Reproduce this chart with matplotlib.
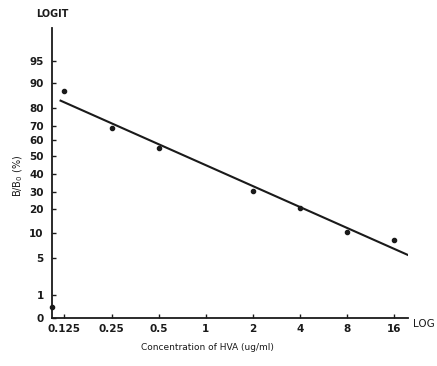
import numpy as np
import matplotlib.pyplot as plt
from matplotlib.ticker import FixedLocator, FixedFormatter, NullLocator

# data (B/B0 as fraction)
conc = [0.125, 0.25, 0.5, 2, 4, 8, 16]
bb0 = [0.868, 0.69, 0.55, 0.305, 0.205, 0.104, 0.086]
zero_point = [0.104, 0.005]   # point sitting on the y axis

# fitted line end points
fit_x = [0.118, 19.7]
fit_y = [0.83, 0.056]

xticks = [0.125, 0.25, 0.5, 1, 2, 4, 8, 16]
xtick_labels = ["0.125", "0.25", "0.5", "1", "2", "4", "8", "16"]
yticks = [0.0, 0.01, 0.05, 0.1, 0.2, 0.3, 0.4, 0.5, 0.6, 0.7, 0.8, 0.9, 0.95]
ytick_labels = ["0", "1", "5", "10", "20", "30", "40", "50", "60", "70", "80", "90", "95"]

# the printed logit paper grid (hand ruled, not a clean logit)
paper_p = [0.0, 0.01, 0.05, 0.1, 0.2, 0.3, 0.4, 0.5, 0.6, 0.7, 0.8, 0.9, 0.95, 0.99]
paper_u = [0, 23, 60, 85, 109, 126, 144, 162, 178, 192, 210, 235, 257, 290]


def fwd(p):
    return np.interp(p, paper_p, paper_u)


def inv(u):
    return np.interp(u, paper_u, paper_p)


plt.rcParams['font.family'] = 'DejaVu Sans'
fig = plt.figure(figsize=(4.37, 3.66), dpi=100)
ax = fig.add_axes([0.119, 0.131, 0.815, 0.792])

ax.set_xscale('log', base=2)
ax.set_yscale('function', functions=(fwd, inv))
ax.set_xlim(0.104, 19.7)
ax.set_ylim(0.0, 0.99)

ax.plot(fit_x, fit_y, color='#1a1a1a', lw=1.5)
ax.plot(conc, bb0, 'o', color='#1a1a1a', ms=3)
ax.plot([zero_point[0]], [zero_point[1]], 'o', color='#1a1a1a', ms=3, clip_on=False)

ax.xaxis.set_major_locator(FixedLocator(xticks))
ax.xaxis.set_major_formatter(FixedFormatter(xtick_labels))
ax.xaxis.set_minor_locator(NullLocator())
ax.yaxis.set_major_locator(FixedLocator(yticks))
ax.yaxis.set_major_formatter(FixedFormatter(ytick_labels))
ax.yaxis.set_minor_locator(NullLocator())

ax.tick_params(axis='both', direction='in', length=3, width=1, labelsize=7.5, colors='#1a1a1a')
ax.tick_params(axis='y', pad=6)
ax.tick_params(axis='x', pad=4)
for lab in ax.get_xticklabels() + ax.get_yticklabels():
    lab.set_fontweight('bold')

for s in ['top', 'right']:
    ax.spines[s].set_visible(False)
for s in ['left', 'bottom']:
    ax.spines[s].set_linewidth(1.3)
    ax.spines[s].set_color('#1a1a1a')

fig.text(0.119, 0.962, "LOGIT", ha='center', va='center', fontsize=7, fontweight='bold', color='#1a1a1a')
fig.text(0.945, 0.115, "LOG", ha='left', va='center', fontsize=7.5, color='#1a1a1a')
fig.text(0.474, 0.05, "Concentration of HVA (ug/ml)", ha='center', va='center', fontsize=6.5, color='#1a1a1a')
fig.text(0.041, 0.52, "B/B$_0$ (%)", ha='center', va='center', rotation=90, fontsize=7, color='#1a1a1a')

fig.savefig('out.png', dpi=100)
